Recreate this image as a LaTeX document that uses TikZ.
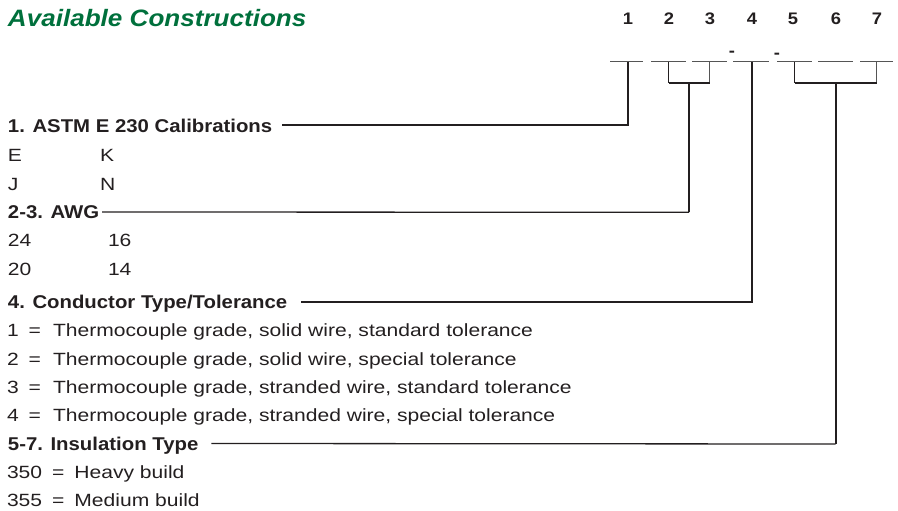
\documentclass[tikz,border=0pt]{standalone}
\usepackage{fontspec}
\setmainfont{Liberation Sans}
\newfontfamily\regfont[FakeStretch=1.19]{Liberation Sans}
\newfontfamily\headfont[FakeStretch=1.1]{Liberation Sans}
\usetikzlibrary{calc}
\definecolor{omegagreen}{HTML}{00703C}
\definecolor{ink}{HTML}{231F20}
\definecolor{slotgray}{HTML}{555555}
\begin{document}
\begin{tikzpicture}[x=1pt,y=-1pt,
  every node/.style={inner sep=0pt, outer sep=0pt, text=ink},
  titletext/.style={anchor=base west, font=\headfont\fontsize{23.7}{26}\selectfont\bfseries\itshape, text=omegagreen},
  digit/.style={anchor=base, font=\headfont\fontsize{16.7}{20}\selectfont\bfseries},
  dashmark/.style={anchor=base, font=\headfont\fontsize{16.7}{20}\selectfont\bfseries},
  head/.style={anchor=base west, font=\headfont\fontsize{18.5}{22}\selectfont\bfseries},
  item/.style={anchor=base west, font=\regfont\fontsize{17.7}{20}\selectfont},
  slotbox/.style={minimum height=0pt, minimum width=#1, anchor=center},
  slotline/.style={line width=1pt, draw=slotgray},
  conn/.style={line width=2pt, draw=ink},
  thinconn/.style={line width=1.3pt, draw=ink},
  brkL/.style={line width=1.7pt, draw=ink},
  brkR/.style={line width=1pt, draw=slotgray}
]
\useasboundingbox (0,0) rectangle (898,511);

% title
\node[titletext] (title) at (8,27) {Available Constructions};

% position digits
\node[digit] (d1) at (628,25) {1};
\node[digit] (d2) at (669,25) {2};
\node[digit] (d3) at (710,25) {3};
\node[digit] (d4) at (752,25) {4};
\node[digit] (d5) at (793,25) {5};
\node[digit] (d6) at (836,25) {6};
\node[digit] (d7) at (877,25) {7};

% slots
\node[slotbox=33pt] (s1) at (626.5,62) {};
\node[slotbox=35pt] (s2) at (668.5,62) {};
\node[slotbox=35pt] (s3) at (709.5,62) {};
\node[slotbox=36pt] (s4) at (751,62) {};
\node[slotbox=35pt] (s5) at (794.5,62) {};
\node[slotbox=35pt] (s6) at (835.5,62) {};
\node[slotbox=33pt] (s7) at (876.5,62) {};
\foreach \s in {s1,s2,s3,s4,s5,s6,s7}{\draw[slotline] (\s.west) -- (\s.east);}

% dashes
\node[dashmark] (m1) at (732,56.5) {-};
\node[dashmark] (m2) at (777,58.8) {-};

% text block
\node[head] (h1) at (8,132) {1. ASTM E 230 Calibrations};
\node[item] (e) at (8,161.7) {E};
\node[item] (k) at (100,161.7) {K};
\node[item] (j) at (8,190) {J};
\node[item] (n) at (100,190) {N};
\node[head] (h2) at (8,218.3) {2-3. AWG};
\node[item] (a24) at (8,246.7) {24};
\node[item] (a16) at (108,246.7) {16};
\node[item] (a20) at (8,275) {20};
\node[item] (a14) at (108,275) {14};
\node[head] (h4) at (8,308.3) {4. Conductor Type/Tolerance};
\node[item] (c1) at (7,336.7) {1\hskip 10pt=\hskip 12pt Thermocouple grade, solid wire, standard tolerance};
\node[item] (c2) at (7,365) {2\hskip 10pt=\hskip 12pt Thermocouple grade, solid wire, special tolerance};
\node[item] (c3) at (7,393.3) {3\hskip 10pt=\hskip 12pt Thermocouple grade, stranded wire, standard tolerance};
\node[item] (c4) at (7,421.7) {4\hskip 10pt=\hskip 12pt Thermocouple grade, stranded wire, special tolerance};
\node[head] (h5) at (8,450) {5-7. Insulation Type};
\node[item] (i350) at (7,478.3) {350\hskip 10pt=\hskip 10pt Heavy build};
\node[item] (i355) at (7,506.7) {355\hskip 10pt=\hskip 10pt Medium build};

% connector 1
\draw[conn] ($(h1.base east)+(10,-6.5)$) -| ([xshift=1.5pt]s1.south);

% connector 2-3
\coordinate (b2) at ($(s2.south)+(0,21)$);
\coordinate (b3) at ($(s3.south)+(0,21)$);
\draw[brkL] (s2.south) -- (b2);
\draw[brkR] (s3.south) -- (b3);
\draw[thinconn] (b2) -- (b3);
\coordinate (b23) at ($(b2)!0.5!(b3)$);
\draw[conn] (b23) -- ++(0,129.3) coordinate (c23);
\draw[thinconn] ($(h2.base east)+(3,-6.3)$) -- (c23);

% connector 4
\draw[conn] ($(h4.base east)+(14,-6.5)$) -| ([xshift=1pt]s4.south);

% connector 5-7
\coordinate (b5) at ($(s5.south)+(0,21)$);
\coordinate (b7) at ($(s7.south)+(0,21)$);
\draw[brkL] (s5.south) -- (b5);
\draw[brkR] (s7.south) -- (b7);
\draw[thinconn] (b5) -- (b7);
\coordinate (b57) at ($(b5)!0.5!(b7)$);
\draw[conn] (b57) -- ++(0,361) coordinate (c57);
\draw[thinconn] ($(h5.base east)+(13,-6.5)$) -- (c57);
\end{tikzpicture}
\end{document}
